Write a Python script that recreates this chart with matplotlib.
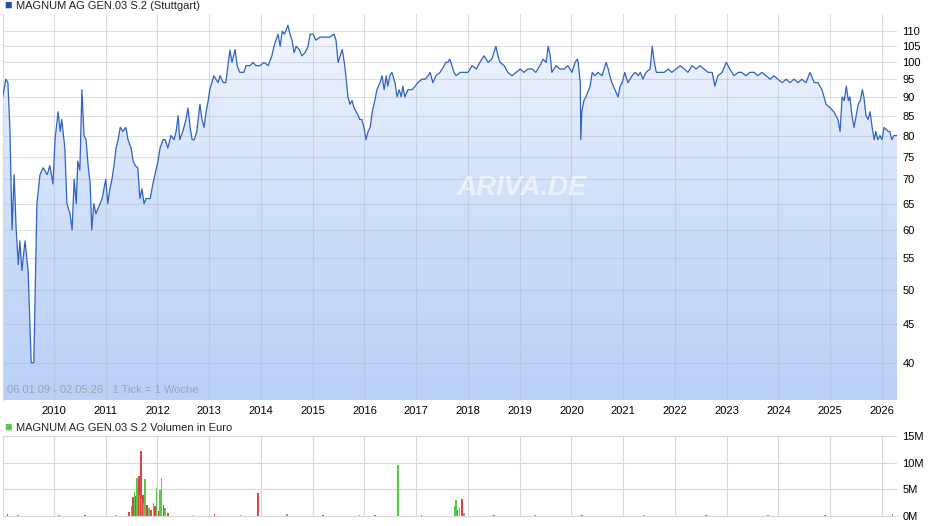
import numpy as np
import matplotlib
matplotlib.use("Agg")
import matplotlib.pyplot as plt
from matplotlib.patches import Polygon
from matplotlib.colors import LinearSegmentedColormap

dates = [2009.01,2009.07,2009.11,2009.15,2009.19,2009.23,2009.27,2009.31,2009.34,2009.38,2009.44,2009.50,2009.56,2009.61,2009.67,2009.73,2009.79,2009.87,2009.92,2009.98,
2010.02,2010.08,2010.12,2010.15,2010.21,2010.25,2010.31,2010.35,2010.39,2010.43,2010.46,2010.50,2010.54,2010.58,2010.62,2010.66,2010.70,2010.73,2010.77,2010.81,2010.89,2010.93,
2011.00,2011.04,2011.08,2011.12,2011.16,2011.20,2011.24,2011.28,2011.33,2011.39,2011.43,2011.49,2011.53,2011.57,2011.62,2011.66,2011.70,2011.74,2011.78,2011.86,2011.91,2011.97,
2012.01,2012.05,2012.11,2012.15,2012.20,2012.26,2012.32,2012.36,2012.40,2012.43,2012.49,2012.55,2012.59,2012.63,2012.67,2012.71,2012.76,2012.82,2012.86,2012.90,2012.94,2012.98,
2013.01,2013.05,2013.09,2013.13,2013.17,2013.21,2013.27,2013.32,2013.40,2013.44,2013.50,2013.54,2013.59,2013.67,2013.71,2013.79,2013.85,2013.90,2013.98,
2014.06,2014.14,2014.21,2014.25,2014.29,2014.33,2014.37,2014.41,2014.45,2014.48,2014.52,2014.56,2014.60,2014.64,2014.68,2014.74,2014.79,2014.85,2014.91,2014.95,
2015.01,2015.06,2015.14,2015.22,2015.33,2015.41,2015.45,2015.49,2015.53,2015.57,2015.61,2015.64,2015.68,2015.72,2015.76,2015.80,2015.84,2015.88,2015.91,2015.95,2015.99,
2016.03,2016.07,2016.11,2016.15,2016.20,2016.24,2016.30,2016.34,2016.38,2016.42,2016.45,2016.49,2016.53,2016.59,2016.63,2016.67,2016.71,2016.74,2016.78,2016.84,2016.92,2016.98,
2017.03,2017.11,2017.17,2017.23,2017.27,2017.32,2017.38,2017.46,2017.54,2017.57,2017.61,2017.65,2017.69,2017.73,2017.77,2017.85,2017.92,
2018.00,2018.08,2018.16,2018.23,2018.31,2018.39,2018.46,2018.54,2018.58,2018.62,2018.70,2018.77,2018.85,2018.93,
2019.01,2019.08,2019.16,2019.24,2019.31,2019.39,2019.45,2019.51,2019.55,2019.59,2019.62,2019.70,2019.78,2019.86,2019.93,
2020.01,2020.07,2020.11,2020.13,2020.17,2020.18,2020.20,2020.24,2020.28,2020.36,2020.40,2020.45,2020.51,2020.59,2020.67,2020.71,2020.74,2020.78,2020.84,2020.90,2020.94,2020.98,
2021.03,2021.09,2021.17,2021.23,2021.29,2021.33,2021.38,2021.44,2021.52,2021.56,2021.60,2021.64,2021.71,2021.79,2021.87,2021.94,
2022.02,2022.10,2022.18,2022.25,2022.33,2022.41,2022.48,2022.56,2022.64,2022.72,2022.77,2022.83,2022.91,2022.99,
2023.06,2023.14,2023.22,2023.29,2023.37,2023.45,2023.53,2023.60,2023.68,2023.76,2023.84,2023.91,2023.99,
2024.07,2024.15,2024.22,2024.30,2024.38,2024.45,2024.53,2024.61,2024.69,2024.76,2024.84,2024.92,
2025.00,2025.07,2025.15,2025.19,2025.23,2025.27,2025.31,2025.35,2025.38,2025.42,2025.46,2025.50,2025.54,2025.58,2025.62,2025.65,2025.69,2025.73,2025.77,2025.81,2025.85,2025.88,2025.92,2025.96,
2026.00,2026.04,2026.12,2026.15,2026.19,2026.23,2026.29]

prices = [90,95,94,81,60,71,60,54,58,53,58,53,40,40,65,71,72.5,71,73,69,
79,86,81,84,77,65,63,60,70,65,74,72,92,80,79,73,69,60,65,63,65,66,
70,65,68,70,73,77,79,82,81,82,79,77,74,73,72.5,66,68,65,66,66,69,72,
74,77,79,79,77,80,79,81,85,79,81,84,87,82,79,79,81,88,84,82,86,89,
92,94,96,95,94,96,94,94,103.8,100,104,99,97,97,99,99,100,99,99,
100,99,102,105,107,109,105,110,109,110,112,109,107,103,105,104,102,103,105,109,
109,107,108,108,108,109,107,100,102,104,100,96,90,88,89,87,86,85,84,84,82,
79,81,82,86,89,92,94,96,92,96,93,96,97,94,90,92,90,93,90,92,92,93,
94,95,95,96,97,94,96,97,99,100,100,101,99,97,96,97,97,
97,99,98,100,102,100,101,105,102,100,99,97,96,97,
98,97,98,98,97,99,101,100,105,102,97,99,98,98,99,
97,100,101,100,94,79,86,89,90,93,97,96,97,96,100,98,96,94,92,90,93,94,
97,94,96,97,96,97,95,97,98,105,100,97,97,97,98,97,
98,99,98,97,99,98,99,98,97,97,93,96,97,100,
98,96,97,97,96,97,97,96,97,96,95,96,95,
94,95,94,95,94,95,94,97,94,94,92,88,
87,86,84,81,90,89,93,89,90,85,82,85,88,89,92,90,85,84,86,82,79,81,79,80,
79,82,81,81,79,80,80]

vol_dates = [2009.02,2009.10,2009.30,2010.10,2010.60,2011.20,2011.45,2011.50,2011.53,2011.56,2011.58,2011.60,2011.62,2011.64,2011.66,2011.68,2011.70,2011.72,2011.74,2011.76,2011.80,2011.84,2011.88,2011.92,2011.95,2011.98,2012.02,2012.05,2012.08,2012.12,2012.15,2012.20,2012.70,2013.10,2013.60,2013.94,2014.50,2015.20,2015.90,2016.20,2016.65,2017.10,2017.74,2017.77,2017.80,2017.84,2017.88,2017.92,2018.50,2019.30,2020.20,2021.40,2022.60,2023.80,2024.90,2026.20]
vol_values = [0.6,0.3,0.2,0.2,0.2,0.2,0.8,1.8,3.5,4.5,3.8,7.2,2.0,7.5,4.0,12.2,3.2,4.0,2.5,7.0,2.0,1.5,1.2,2.5,1.8,5.3,1.0,4.8,7.2,2.0,1.5,0.5,0.2,0.3,0.2,4.3,0.3,0.2,0.2,0.2,9.5,0.2,1.8,3.0,1.2,1.5,3.2,0.5,0.2,0.2,0.2,0.2,0.2,0.2,0.2,0.3]
vol_up = [1,0,1,1,0,1,0,1,0,1,0,1,1,0,1,0,1,0,1,1,0,1,0,1,0,1,0,1,1,0,1,0,1,0,1,0,1,0,1,0,1,0,1,1,0,1,0,1,0,1,0,1,0,1,0,1]

years = list(range(2010, 2027))
price_ticks = [40, 45, 50, 55, 60, 65, 70, 75, 80, 85, 90, 95, 100, 105, 110]

W, H = 940, 526
fig = plt.figure(figsize=(W/100, H/100), dpi=100)
plt.rcParams['font.family'] = ['Liberation Sans', 'DejaVu Sans']
grid_c = '#d9d9d9'
xmin, xmax = 2009.015, 2026.29
ymin, ymax = 35.7, 115.9

ax = fig.add_axes([3/W, (H-400)/H, 894/W, 386/H])
ax.set_yscale('log')
ax.set_xlim(xmin, xmax); ax.set_ylim(ymin, ymax)
for y in years: ax.axvline(y, color='#b0b8c8', lw=0.8, alpha=0.45, zorder=2)
for t in price_ticks: ax.axhline(t, color='#b0b8c8', lw=0.8, alpha=0.45, zorder=2)
grad = np.linspace(0, 1, 256).reshape(-1, 1)
cmap = LinearSegmentedColormap.from_list('g', ['#f8faff', '#bad1f7'])
im = ax.imshow(grad, extent=[xmin, xmax, ymin, ymax], aspect='auto', cmap=cmap, origin='upper', zorder=1)
poly = Polygon(list(zip([dates[0]] + dates + [dates[-1]], [ymin] + prices + [ymin])), closed=True, transform=ax.transData, facecolor='none', edgecolor='none')
ax.add_patch(poly)
im.set_clip_path(poly)
ax.plot(dates, prices, color='#2f62c4', lw=0.9, zorder=3)
ax.text(0.58, 0.55, 'ARIVA.DE', transform=ax.transAxes, fontsize=20, color='#ffffff', style='italic', weight='bold', ha='center', va='center', zorder=2, alpha=0.6)
ax.text(0.004, 0.012, '06.01.09 - 02.05.26   1 Tick = 1 Woche', transform=ax.transAxes, fontsize=8, color='#9aa4b5', ha='left', va='bottom', zorder=4)
ax.yaxis.tick_right()
ax.set_yticks(price_ticks); ax.set_yticklabels([str(t) for t in price_ticks]); ax.minorticks_off()
ax.set_xticks(years); ax.set_xticklabels([str(y) for y in years])
ax.tick_params(length=0, labelsize=8, pad=4)
for s in ax.spines.values(): s.set_visible(False)
ax.spines['left'].set_visible(True); ax.spines['left'].set_color(grid_c)

fig.text(4/W, 1-6/H, '\u25A0', color='#1f4fa8', fontsize=9, va='center')
fig.text(16/W, 1-6/H, 'MAGNUM AG GEN.03 S.2 (Stuttgart)', fontsize=8, va='center', color='#222222')

av = fig.add_axes([3/W, 10/H, 894/W, 80/H])
av.set_xlim(xmin, xmax); av.set_ylim(0, 15)
for y in years: av.axvline(y, color=grid_c, lw=0.8, zorder=0)
for t in [5, 10, 15]: av.axhline(t, color=grid_c, lw=0.8, zorder=0)
cols = ['#55cc44' if u else '#dd4444' for u in vol_up]
av.bar(vol_dates, vol_values, width=0.03, color=cols, zorder=2)
av.yaxis.tick_right()
av.set_yticks([0, 5, 10, 15]); av.set_yticklabels(['0M', '5M', '10M', '15M'])
av.set_xticks([])
av.tick_params(length=0, labelsize=8, pad=4)
for s in av.spines.values(): s.set_visible(False)
av.spines['left'].set_visible(True); av.spines['left'].set_color(grid_c)
av.spines['bottom'].set_visible(True); av.spines['bottom'].set_color(grid_c)
fig.text(4/W, 1-428/H, '\u25A0', color='#55cc44', fontsize=9, va='center')
fig.text(16/W, 1-428/H, 'MAGNUM AG GEN.03 S.2 Volumen in Euro', fontsize=8, va='center', color='#222222')

fig.savefig('out.png', dpi=100)
